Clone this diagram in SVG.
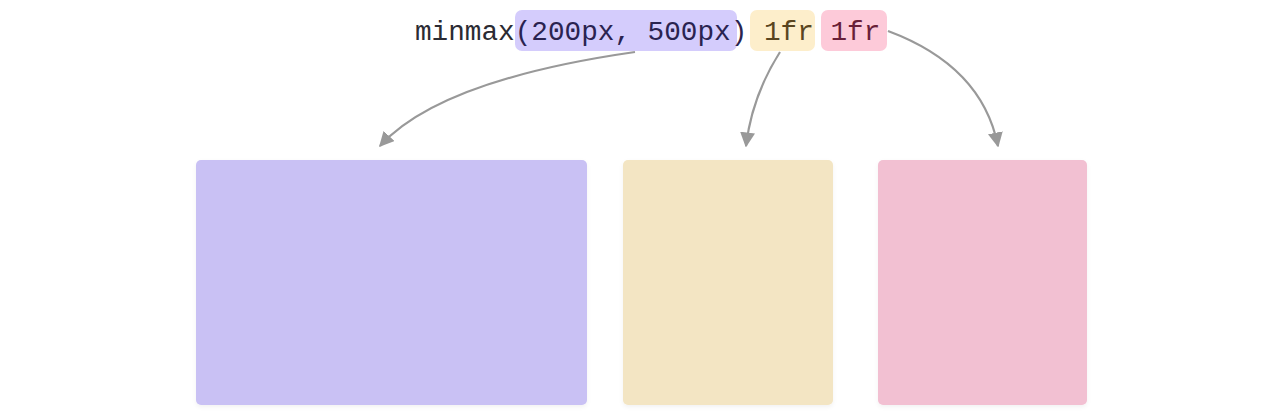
<svg xmlns="http://www.w3.org/2000/svg" width="1280" height="418" viewBox="0 0 1280 418">
<style>
.code{font-family:"Liberation Mono","DejaVu Sans Mono",monospace;font-size:27.7px;fill:#2b2b33}
.conn{fill:none;stroke:#999999;stroke-width:2.2}
.col{filter:url(#sh)}
</style>
<defs>
<marker id="ah" viewBox="0 0 10 10" refX="9" refY="5" markerWidth="15" markerHeight="15" markerUnits="userSpaceOnUse" orient="auto">
<path d="M0,0 L10,5 L0,10 Z" fill="#999999"/>
</marker>
<filter id="sh" x="-5%" y="-5%" width="110%" height="115%">
<feDropShadow dx="0" dy="2" stdDeviation="2" flood-color="#000" flood-opacity="0.05"/>
</filter>
</defs>
<rect width="1280" height="418" fill="#ffffff"/>
<g id="code">
<rect x="515" y="10" width="222" height="41" rx="7" fill="#d4ccfc"/>
<rect x="750" y="10" width="65" height="41" rx="7" fill="#fdeecb"/>
<rect x="821" y="10" width="66" height="41" rx="7" fill="#fdcad9"/>
<text class="code" x="415" y="40">minmax<tspan fill="#2a2350">(200px, 500px)</tspan> <tspan fill="#5a4520">1fr</tspan> <tspan fill="#6a1f38">1fr</tspan></text>
</g>
<g id="connectors">
<path class="conn" d="M635,52 Q440,80 380,146" marker-end="url(#ah)"/>
<path class="conn" d="M780,52 Q752,96 746,146" marker-end="url(#ah)"/>
<path class="conn" d="M888,31 Q982,66 998,146" marker-end="url(#ah)"/>
</g>
<g id="col1"><rect class="col" x="196" y="160" width="391" height="245" rx="5" fill="#c9c1f4"/></g>
<g id="col2"><rect class="col" x="623" y="160" width="210" height="245" rx="5" fill="#f3e5c3"/></g>
<g id="col3"><rect class="col" x="878" y="160" width="209" height="245" rx="5" fill="#f2c0d2"/></g>
</svg>
